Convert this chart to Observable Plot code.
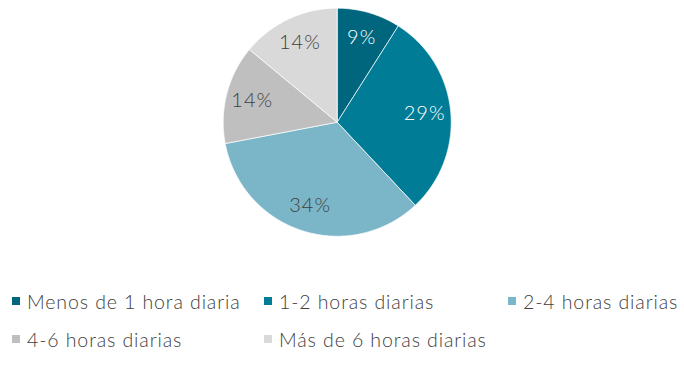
<!DOCTYPE html>
<html>
<head>
<meta charset="utf-8">
<script src="https://cdn.jsdelivr.net/npm/d3@7"></script>
<script src="https://cdn.jsdelivr.net/npm/@observablehq/plot@0.6"></script>
<style>
  html, body { margin: 0; padding: 0; background: #fff; }
  body { width: 684px; height: 382px; overflow: hidden; font-family: Lato, "Open Sans", sans-serif; }
  #chart svg { display: block; }
  #legend {
    display: grid;
    grid-template-columns: 252px 244px auto;
    row-gap: 16px;
    margin-left: 12px;
    margin-top: 46px;
    font-family: Lato, sans-serif;
    font-weight: 300;
    font-size: 19.5px;
    letter-spacing: 0.9px;
    color: #404040;
  }
  .item { display: flex; align-items: center; height: 22px; white-space: nowrap; }
  .sw { width: 8px; height: 8px; margin-right: 7px; flex: none; }
</style>
</head>
<body>
<div id="chart"></div>
<div id="legend"></div>
<script>
const categories = ["Menos de 1 hora diaria", "1-2 horas diarias", "2-4 horas diarias", "4-6 horas diarias", "Más de 6 horas diarias"];
const values = [9, 29, 34, 14, 14];
const colors = ["#00667d", "#007c97", "#7bb6c8", "#bfbfbf", "#d9d9d9"];
const labelColors = ["#ffffff", "#ffffff", "#404040", "#404040", "#404040"];

const arcs = d3.pie().sort(null).value(d => d)(values).map((a, i) => ({...a, category: categories[i], i}));

// slice outlines (geometry sampled along each arc)
const outline = [];
for (const a of arcs) {
  const steps = Math.max(2, Math.ceil((a.endAngle - a.startAngle) / (Math.PI / 360)));
  outline.push({category: a.category, x: 0, y: 0});
  for (let k = 0; k <= steps; k++) {
    const t = a.startAngle + (a.endAngle - a.startAngle) * k / steps;
    outline.push({category: a.category, x: Math.sin(t), y: Math.cos(t)});
  }
  outline.push({category: a.category, x: 0, y: 0});
}

const lr = 0.77;
const labels = arcs.map(a => {
  const m = (a.startAngle + a.endAngle) / 2;
  return {x: lr * Math.sin(m), y: lr * Math.cos(m), text: a.value + "%", dark: labelColors[a.i] !== "#ffffff"};
});

const textStyle = {x: "x", y: "y", text: "text", fontSize: 20, fontFamily: "Lato, sans-serif", fontWeight: 300, style: "letter-spacing: 1px"};

const chart = Plot.plot({
  width: 684,
  height: 244,
  marginLeft: 222.7,
  marginRight: 233.3,
  marginTop: 7.7,
  marginBottom: 8.3,
  x: {domain: [-1, 1], axis: null},
  y: {domain: [-1, 1], axis: null},
  color: {domain: categories, range: colors},
  style: {background: "white"},
  marks: [
    Plot.line(outline, {x: "x", y: "y", z: "category", fill: "category", stroke: "white", strokeWidth: 0.7, curve: "linear"}),
    Plot.text(labels.filter(d => !d.dark), {...textStyle, fill: "#ffffff"}),
    Plot.text(labels.filter(d => d.dark), {...textStyle, fill: "#404040"})
  ]
});
chart.querySelectorAll("text").forEach(t => t.style.letterSpacing = "1px");
document.getElementById("chart").appendChild(chart);

const legend = document.getElementById("legend");
categories.forEach((c, i) => {
  const item = document.createElement("div");
  item.className = "item";
  const sw = document.createElement("span");
  sw.className = "sw";
  sw.style.background = colors[i];
  const tx = document.createElement("span");
  tx.textContent = c;
  item.appendChild(sw);
  item.appendChild(tx);
  legend.appendChild(item);
});
</script>
</body>
</html>
